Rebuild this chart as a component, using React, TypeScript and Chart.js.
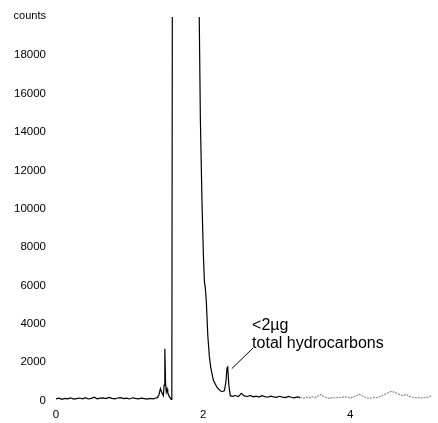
import React, { useEffect, useRef } from "react";
import { Chart, registerables } from "chart.js";

Chart.register(...registerables);

const times: number[] = [
  0.0, 0.04, 0.08, 0.12, 0.16, 0.2, 0.24, 0.28, 0.32, 0.36, 0.4, 0.44, 0.48, 0.52, 0.56, 0.6, 0.64, 0.68, 0.72, 0.76,
  0.8, 0.84, 0.88, 0.92, 0.96, 1.0, 1.04, 1.08, 1.12, 1.16, 1.2, 1.24, 1.28, 1.32, 1.36,
  1.38, 1.4, 1.42, 1.44, 1.46, 1.47, 1.48, 1.49, 1.5, 1.51, 1.52, 1.54, 1.56, 1.565, 1.575, 1.585,
  1.93, 1.945, 1.963, 1.986, 2.005, 2.018, 2.03, 2.045, 2.064, 2.085, 2.105, 2.14, 2.19, 2.23, 2.26, 2.29, 2.31, 2.325,
  2.335, 2.35, 2.37,
  2.4, 2.44, 2.48, 2.52, 2.56, 2.6, 2.64, 2.68, 2.72, 2.76, 2.8, 2.84, 2.88, 2.92, 2.96, 3.0, 3.04, 3.08, 3.12, 3.16,
  3.2, 3.24, 3.28, 3.32, 3.36, 3.4, 3.44, 3.48, 3.52, 3.56, 3.6, 3.64, 3.68, 3.72, 3.76, 3.8, 3.84, 3.88, 3.92, 3.96,
  4.0, 4.04, 4.08, 4.12, 4.16, 4.2, 4.24, 4.28, 4.32, 4.36, 4.4, 4.44, 4.48, 4.52, 4.56, 4.6, 4.64, 4.68, 4.72, 4.76,
  4.8, 4.84, 4.88, 4.92, 4.96, 5.0, 5.04, 5.08, 5.1,
];

const counts: number[] = [
  80, 120, 60, 110, 90, 140, 70, 100, 130, 90, 150, 80, 110, 170, 90, 120, 140, 100, 160, 110,
  90, 130, 150, 100, 120, 80, 140, 110, 90, 120, 100, 70, 110, 90, 130,
  150, 300, 620, 400, 250, 800, 2700, 900, 450, 600, 400, 200, 100, 60, 120, 30000,
  30000, 21000, 14700, 10200, 7500, 6200, 5900, 5100, 3400, 2300, 1700, 1050, 680, 520, 460, 520, 950, 1700,
  1750, 800, 250,
  220, 260, 200, 370, 240, 210, 260, 190, 230, 180, 250, 200, 170, 230, 190, 160, 220, 180, 150, 210,
  170, 140, 190, 150, 120, 170, 140, 200, 150, 230, 320, 200, 150, 110, 160, 130, 180, 140, 210, 170,
  130, 190, 240, 330, 250, 180, 140, 120, 170, 150, 200, 260, 340, 420, 470, 440, 360, 300, 250, 320,
  230, 180, 140, 160, 120, 170, 150, 210, 260,
];

const yTicks: number[] = [0, 2000, 4000, 6000, 8000, 10000, 12000, 14000, 16000, 18000];
const xTicks: number[] = [0, 2, 4];
const yAxisTitle = "counts";
const annotationLines: string[] = ["<2µg", "total hydrocarbons"];
const annotationPeak = { x: 2.39, y: 1660 };
const annotationTextAnchor = { x: 2.68, y: 2740 };
const greyFrom = 3.3;

const FONT = "'Liberation Sans', Arial, sans-serif";

export default function App() {
  const ref = useRef<HTMLCanvasElement | null>(null);

  useEffect(() => {
    if (!ref.current) return;
    const points = times.map((t, i) => ({ x: t, y: counts[i] }));

    const overlay = {
      id: "overlay",
      afterDraw(chart: any) {
        const { ctx, scales, chartArea } = chart;
        const xs = scales.x;
        const ys = scales.y;
        ctx.save();
        ctx.fillStyle = "#000";
        ctx.font = `11px ${FONT}`;
        ctx.textAlign = "right";
        ctx.textBaseline = "middle";
        ctx.fillText(yAxisTitle, chartArea.left - 10, 16);

        const px = xs.getPixelForValue(annotationPeak.x);
        const py = ys.getPixelForValue(annotationPeak.y);
        const tx = xs.getPixelForValue(annotationTextAnchor.x);
        const ty = ys.getPixelForValue(annotationTextAnchor.y);
        ctx.strokeStyle = "#000";
        ctx.lineWidth = 1;
        ctx.beginPath();
        ctx.moveTo(px, py);
        ctx.lineTo(tx, ty);
        ctx.stroke();
        ctx.font = `16px ${FONT}`;
        ctx.textAlign = "left";
        ctx.textBaseline = "middle";
        ctx.fillText(annotationLines[0], tx - 1, ty - 22);
        ctx.fillText(annotationLines[1], tx - 1, ty - 4);
        ctx.restore();
      },
    };

    const chart = new Chart(ref.current, {
      type: "line",
      data: {
        datasets: [
          {
            data: points,
            borderColor: "#000",
            borderWidth: 1.2,
            pointRadius: 0,
            tension: 0,
            fill: false,
            segment: {
              borderColor: (c: any) => (c.p0.parsed.x >= greyFrom ? "#8c8c8c" : "#000"),
              borderDash: (c: any) => (c.p0.parsed.x >= greyFrom ? [2, 1] : undefined),
            },
          },
        ],
      },
      options: {
        animation: false,
        responsive: false,
        layout: { padding: { top: 10, right: 4, left: 0, bottom: 0 } },
        plugins: { legend: { display: false }, tooltip: { enabled: false } },
        scales: {
          x: {
            type: "linear",
            min: 0,
            max: 5.14,
            grid: { display: false, drawTicks: false },
            border: { display: false },
            afterFit: (s: any) => {
              s.height = 22.5;
            },
            afterBuildTicks: (s: any) => {
              s.ticks = xTicks.map((v) => ({ value: v }));
            },
            ticks: {
              color: "#000",
              font: { family: FONT, size: 11.5 },
              padding: 7,
              maxRotation: 0,
              callback: (v: any) => String(v),
            },
          },
          y: {
            type: "linear",
            min: 0,
            max: 20000,
            grid: { display: false, drawTicks: false },
            border: { display: false },
            afterFit: (s: any) => {
              s.width = 56;
            },
            afterBuildTicks: (s: any) => {
              s.ticks = yTicks.map((v) => ({ value: v }));
            },
            ticks: {
              color: "#000",
              font: { family: FONT, size: 11.5 },
              padding: 10,
              callback: (v: any) => String(v),
            },
          },
        },
      },
      plugins: [overlay],
    });
    return () => chart.destroy();
  }, []);

  return (
    <canvas
      ref={ref}
      width={438}
      height={423}
      style={{ position: "absolute", left: 0, top: 0, width: 438, height: 423 }}
    />
  );
}
